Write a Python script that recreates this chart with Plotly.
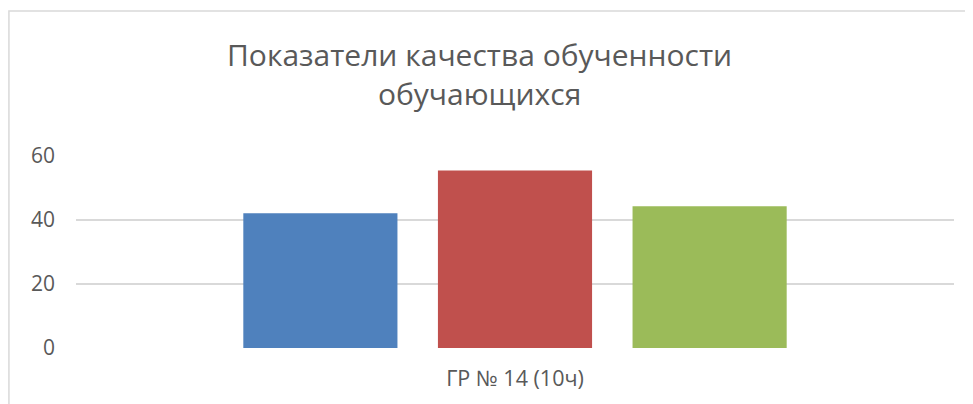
import plotly.graph_objects as go

categories = ["ГР № 14 (10ч)"]
series_names = ["Ряд 1", "Ряд 2", "Ряд 3"]
series_values = [[42.1], [55.5], [44.3]]
series_colors = ["#4F81BD", "#C0504D", "#9BBB59"]
y_ticks = [0, 20, 40, 60]
title_text = "Показатели качества обученности<br>обучающихся"

fig = go.Figure()
for name, vals, col in zip(series_names, series_values, series_colors):
    fig.add_trace(go.Bar(x=categories, y=vals, name=name, marker=dict(color=col, line=dict(width=0))))

FONT = "Open Sans, Noto Sans, sans-serif"
fig.update_layout(
    width=973, height=404,
    margin=dict(l=68, r=27, t=148, b=64),
    paper_bgcolor="white", plot_bgcolor="white",
    showlegend=False,
    barmode="group", bargap=0.335, bargroupgap=0.208,
    font=dict(family=FONT, color="#595959"),
    xaxis=dict(showgrid=False, zeroline=False, showline=False, ticks="",
               tickfont=dict(size=21.5, color="#595959", family=FONT), ticklabelstandoff=15),
    yaxis=dict(range=[0, 60], tickvals=y_ticks, showgrid=True, gridcolor="#d9d9d9", gridwidth=1.5,
               zeroline=False, showline=False, ticks="",
               tickfont=dict(size=21, color="#595959", family=FONT), ticklabelstandoff=20),
    annotations=[dict(text=title_text, xref="paper", yref="paper", x=0.4596, y=1.428,
                      xanchor="center", yanchor="middle", showarrow=False,
                      font=dict(size=30, color="#595959", family=FONT))],
    shapes=[dict(type="rect", xref="paper", yref="paper", x0=-0.0764, x1=2, y0=-1, y1=1.755,
                 line=dict(color="#d9d9d9", width=1.5), fillcolor="rgba(0,0,0,0)", layer="below")],
)
fig.write_html("out.html")
